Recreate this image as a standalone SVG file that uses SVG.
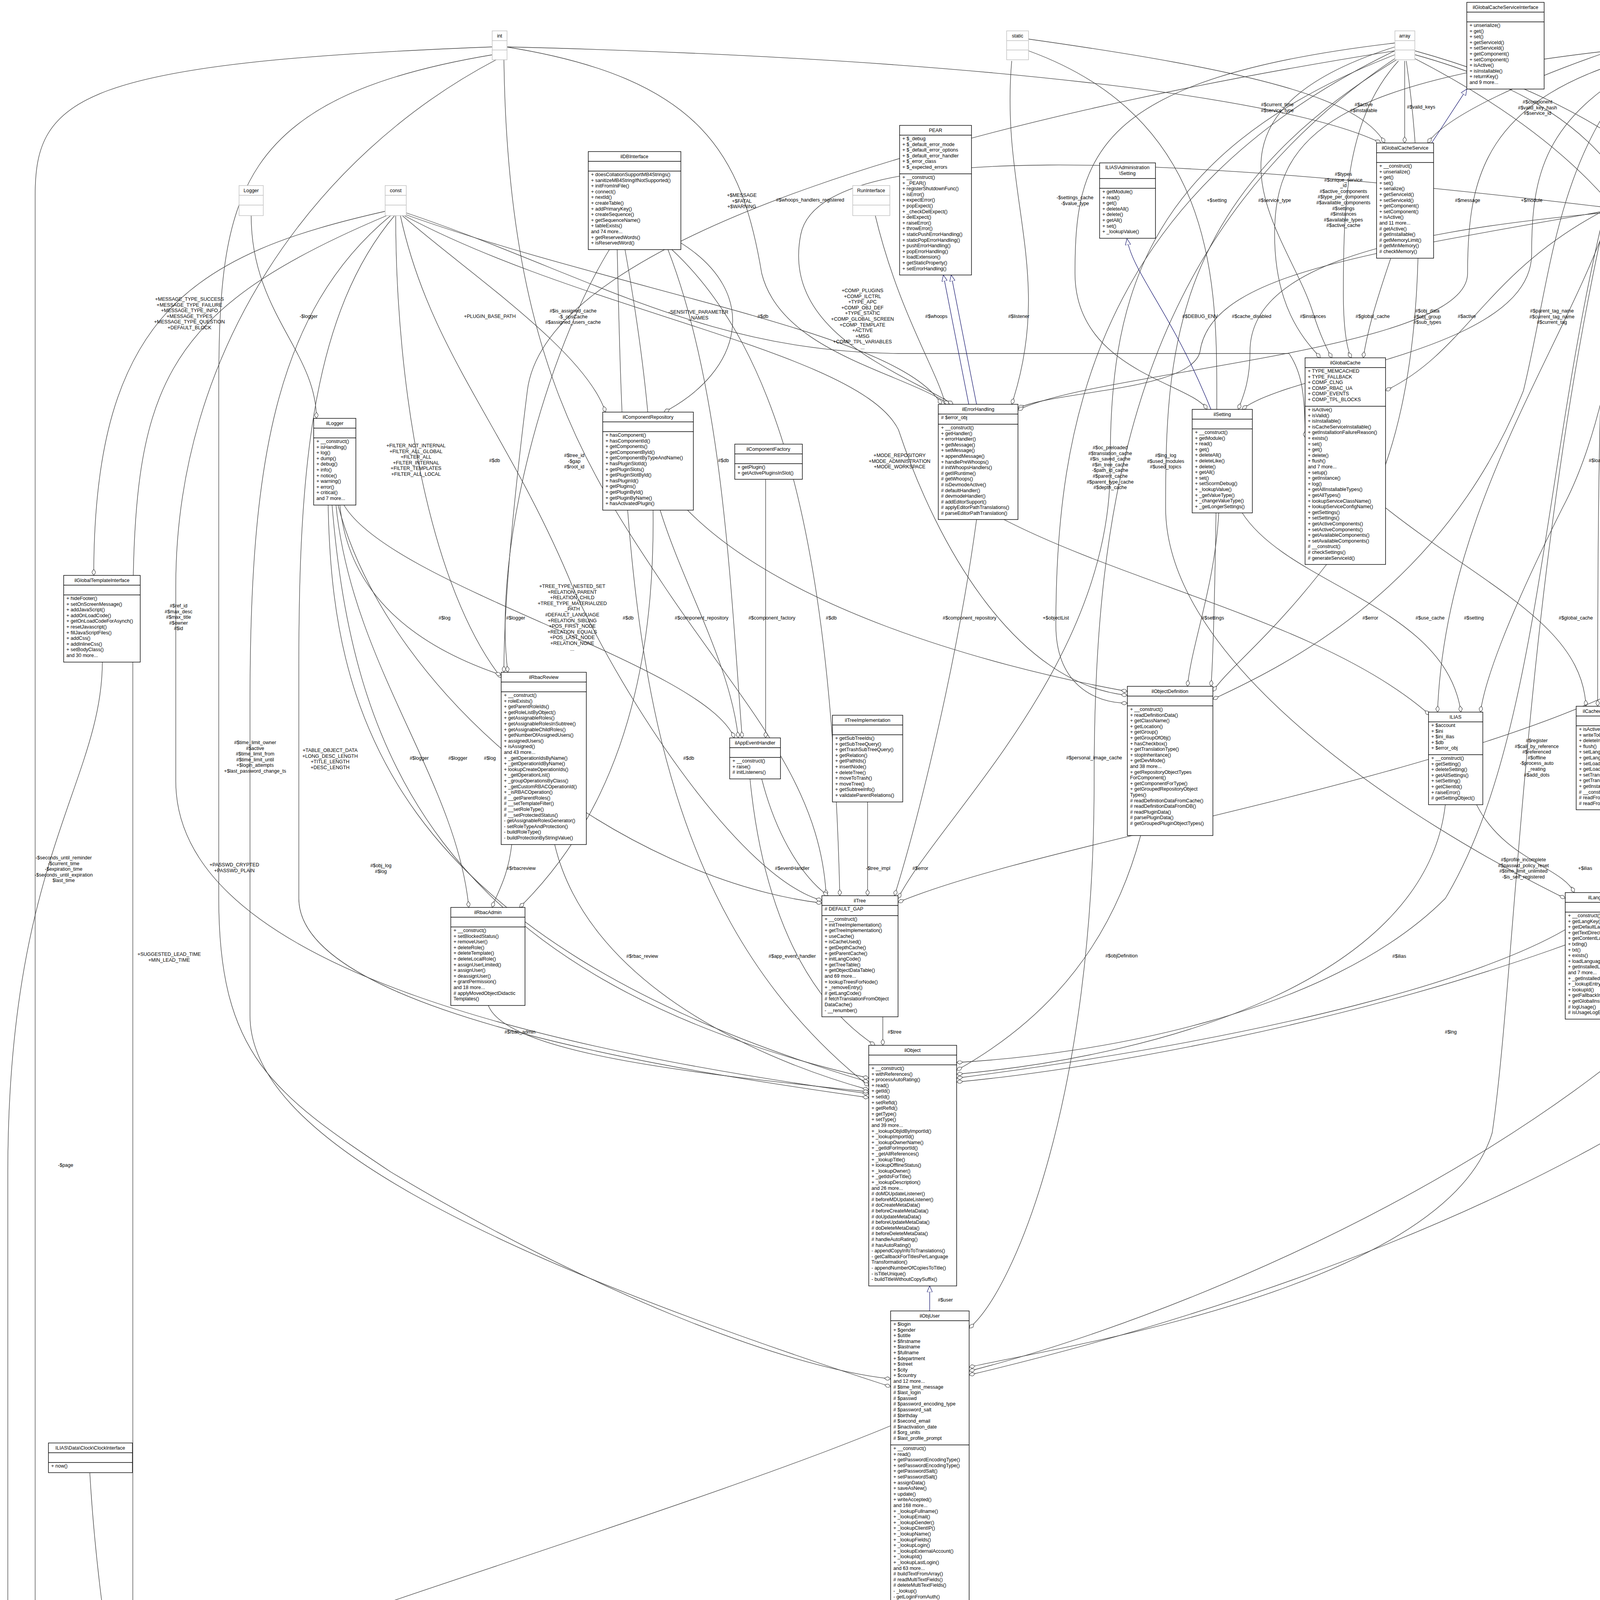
<svg xmlns="http://www.w3.org/2000/svg" width="5116" height="4673" viewBox="0 0 5116 4673">
<style>
.bg{fill:#fff}
.n{fill:#fff;stroke:#000;stroke-width:1.4}
.g{fill:#fff;stroke:#bfbfbf;stroke-width:1.4}
.sep{stroke:#000;stroke-width:1.4}
.gsep{stroke:#bfbfbf;stroke-width:1.4}
text{font-family:"Liberation Sans",Arial,sans-serif;font-size:12.5px;fill:#000}
.c{text-anchor:middle}
.e{fill:none;stroke:#404040;stroke-width:1.3}
.e path{marker-end:url(#dia)}
.inh{fill:none;stroke:#191970;stroke-width:1.3;marker-end:url(#tri)}
.lbl text{text-anchor:middle}
</style>
<defs>
<marker id="dia" viewBox="0 0 16 10" refX="16" refY="5" markerWidth="16" markerHeight="10" markerUnits="userSpaceOnUse" orient="auto"><path d="M0,5 L8,0 L16,5 L8,10 z" fill="#fff" stroke="#404040" stroke-width="1.2"/></marker>
<marker id="tri" viewBox="0 0 16 14" refX="16" refY="7" markerWidth="16" markerHeight="14" markerUnits="userSpaceOnUse" orient="auto"><path d="M0,0 L16,7 L0,14 z" fill="#fff" stroke="#191970" stroke-width="1.2"/></marker>
</defs>
<rect class="bg" x="0" y="0" width="5116" height="4673"/>

<g id="connectors">
<g class="e">
<path d="M1262,120 C200,160 90,250 90,500 L90,4230 C90,4270 150,4290 190,4290"/>
<path d="M990,552 C400,800 340,1000 340,1600 L340,4173"/>
<path d="M1262,140 C600,250 560,500 560,1000 L560,2300 C560,2700 700,2800 1000,3000 C1500,3300 2000,3500 2280,3530"/>
<path d="M1000,552 C700,800 640,1200 640,1800 L640,2600 C640,2900 1200,3200 2280,3550"/>
<path d="M1270,153 C800,400 450,900 450,1500 L450,2000 C450,2500 1500,2700 2224,2800"/>
<path d="M1010,552 C800,800 765,1200 765,1700 L765,2300 C765,2600 1800,2750 2224,2810"/>
<path d="M990,540 C500,650 240,800 240,1473"/>
<path d="M643,552 C643,800 810,900 810,1071"/>
<path d="M1013,552 C1013,1000 1100,1500 1283,1735"/>
<path d="M1030,552 C1200,700 1500,900 1550,1055"/>
<path d="M3571,130 C2500,300 1400,600 1350,1000 C1300,1400 1290,1600 1290,1721"/>
<path d="M1290,153 C1300,900 1500,1200 1700,1500 C1900,1800 2100,2000 2115,2293"/>
<path d="M1025,552 C1100,900 1300,1100 1465,1500 C1600,1800 1900,2250 2104,2305"/>
<path d="M1040,545 C1500,700 1800,900 2300,905 L3300,905 C3330,950 3341,1000 3341,1120"/>
<path d="M1035,552 C1500,800 2200,900 2300,1100 C2400,1400 2600,1750 2886,1780"/>
<path d="M1040,550 C1600,750 2300,850 2410,1035"/>
<path d="M1560,639 C1400,900 1260,1400 1300,1721"/>
<path d="M1710,639 C1850,1000 1870,1500 1900,1889"/>
<path d="M1740,620 C1950,750 1900,950 1700,1055"/>
<path d="M1600,639 C1700,1200 1760,1900 1330,2323"/>
<path d="M1720,639 C2000,900 2128,1400 2150,2293"/>
<path d="M1580,639 C1600,1500 1620,2300 2224,2780"/>
<path d="M870,1292 C900,1600 1200,1700 1283,1728"/>
<path d="M880,1292 C1000,1500 1800,1700 1880,1889"/>
<path d="M860,1292 C900,1700 1170,2000 1200,2323"/>
<path d="M865,1292 C1000,1800 1600,2250 2104,2312"/>
<path d="M850,1292 C900,1900 1100,2500 2224,2760"/>
<path d="M840,1292 C850,1800 975,2400 2224,2770"/>
<path d="M1690,1306 C1750,1500 1870,1700 1890,1889"/>
<path d="M1760,1306 C2000,1550 2500,1700 2886,1770"/>
<path d="M1960,1227 C1960,1500 1960,1700 1960,1889"/>
<path d="M2240,549 C2300,800 2400,950 2420,1035"/>
<path d="M4104,530 C3000,400 2100,350 2050,600 C2000,850 2300,950 2440,1035"/>
<path d="M1295,120 C1800,200 1900,400 1950,700 C2000,900 2300,950 2430,1035"/>
<path d="M2590,156 C2560,500 2700,700 2590,1035"/>
<path d="M4110,540 C3500,650 3100,700 3072,900 C3050,1000 2700,1000 2606,1045"/>
<path d="M2500,1330 C2450,1700 2350,2100 2290,2293"/>
<path d="M2570,1330 C2900,1500 3400,1600 3660,1830"/>
<path d="M1950,1994 C1990,2150 2060,2250 2120,2293"/>
<path d="M1920,1994 C1950,2300 2050,2550 2240,2676"/>
<path d="M2221,2052 L2221,2293"/>
<path d="M1310,2162 C1300,2250 1270,2290 1260,2323"/>
<path d="M1420,2162 C1500,2500 1900,2700 2224,2790"/>
<path d="M1250,2574 C1300,2700 1800,2750 2224,2795"/>
<path d="M2260,2603 L2260,2676"/>
<path d="M2920,2139 C2850,2400 2700,2600 2449,2740"/>
<path d="M3700,2060 C3650,2500 3000,2700 2449,2750"/>
<path d="M4007,2380 C3800,2500 3300,2650 2449,2760"/>
<path d="M4186,2400 C4800,2600 5040,2800 5040,3200 L5040,4300 C5040,4500 2000,4580 381,4600"/>
<path d="M2280,3650 C1800,3850 800,4150 417,4310"/>
<path d="M303,4511 L303,4576"/>
<path d="M230,3771 C240,3950 260,4100 270,4173"/>
<path d="M262,1694 C262,2000 20,2200 20,3000 L20,4400 C20,4550 150,4590 226,4590"/>
<path d="M3120,1313 C3110,1500 3050,1650 3040,1757"/>
<path d="M3180,1313 C3300,1500 3700,1550 3740,1823"/>
<path d="M4120,552 C4000,900 3700,1300 3680,1823"/>
<path d="M3547,1300 C3800,1500 4050,1600 4060,1808"/>
<path d="M4105,2073 L4105,2285"/>
<path d="M3780,2060 C3850,2200 4000,2220 4030,2285"/>
<path d="M4110,552 C3900,1500 3880,2500 3820,2900 C3700,3300 2700,3450 2481,3500"/>
<path d="M4105,552 C3950,1200 3940,1900 3700,2300 C3400,2600 2800,2700 2449,2720"/>
<path d="M4266,140 C4900,500 4920,1200 4920,1700 C4920,2300 3200,2700 2449,2770"/>
<path d="M4266,130 C5000,400 5060,1000 5060,1700 C5060,2800 3200,3350 2481,3520"/>
<path d="M3622,130 C4600,400 4760,1100 4760,1700 C4760,2600 3300,3300 2481,3510"/>
<path d="M4250,156 C4700,500 4708,900 4708,1400 C4700,2000 4300,2200 4186,2300"/>
<path d="M4240,156 C4500,600 4511,1000 4511,1400 C4500,1900 2800,2100 2299,2310"/>
<path d="M3622,150 C4300,500 4380,900 4380,1400 C4370,1900 4250,2200 4186,2290"/>
<path d="M4120,552 C4090,900 4090,1500 4090,1808"/>
<path d="M4140,552 C4250,1000 4250,1800 4176,2290"/>
<path d="M4214,150 C3980,400 3973,700 3900,1000 C3700,1500 3300,1700 3105,1790"/>
<path d="M4230,156 C4170,500 4160,1000 4000,1300 C3850,1600 3800,1750 3790,1823"/>
<path d="M3622,140 C4200,300 4266,600 4266,1000 C4266,1400 4170,1700 4165,1808"/>
<path d="M4260,156 C4390,400 4390,1000 4390,1300 C4390,1600 4180,1750 4170,1808"/>
<path d="M3600,156 C3650,500 3654,1000 3500,1300 C3300,1600 3150,1700 3105,1770"/>
<path d="M4104,540 C3800,700 3755,900 3547,1000"/>
<path d="M3560,662 C3520,780 3500,850 3490,916"/>
<path d="M3571,120 C3000,300 3300,600 3361,800 C3380,860 3400,900 3410,916"/>
<path d="M4104,545 C3500,600 3200,700 3200,900 C3200,980 3180,1020 3170,1048"/>
<path d="M3571,110 C2800,200 2752,400 2752,700 C2752,950 3050,980 3090,1048"/>
<path d="M2633,130 C3100,300 3115,700 3115,1000 C3115,1400 3105,1700 3100,1757"/>
<path d="M4214,120 C3400,200 3263,350 3263,600 C3263,800 3350,880 3380,916"/>
<path d="M3580,156 C3450,300 3439,500 3439,750 C3439,850 3450,900 3460,916"/>
<path d="M4214,140 C3800,250 3757,450 3757,700 C3757,900 2800,950 2606,1050"/>
<path d="M4220,156 C3950,300 3921,450 3921,650 C3921,900 3300,950 3180,1048"/>
<path d="M1298,120 C2500,150 3300,250 3535,366"/>
<path d="M2633,100 C3200,180 3480,250 3545,366"/>
<path d="M3596,156 L3596,366"/>
<path d="M4214,100 C3900,200 3700,300 3655,366"/>
<path d="M3571,140 C2900,400 2842,800 2842,1200 C2842,1700 2400,2100 2299,2300"/>
<path d="M3580,150 C3000,500 2984,900 2984,1300 C2984,1700 3600,2100 4007,2300"/>
<path d="M3571,150 C2900,600 2800,1300 2801,2000 C2801,2800 2600,3300 2481,3400"/>
<path d="M3571,130 C2800,500 2703,1100 2703,1600 C2703,1750 2800,1800 2886,1800"/>
</g>
<path class="inh" d="M2480,1035 L2415,704"/>
<path class="inh" d="M2500,1035 L2435,704"/>
<path class="inh" d="M3100,1048 C3000,800 2900,700 2885,611"/>
<path class="inh" d="M3665,366 L3755,228"/>
<path class="inh" d="M2380,3356 L2380,3292"/>
<g class="lbl">
<text x="163" y="2200"><tspan x="163">-$seconds_until_reminder</tspan><tspan x="163" dy="14.6">-$current_time</tspan><tspan x="163" dy="14.6">-$expiration_time</tspan><tspan x="163" dy="14.6">-$seconds_until_expiration</tspan><tspan x="163" dy="14.6">$last_time</tspan></text>
<text x="433" y="2447"><tspan x="433">+SUGGESTED_LEAD_TIME</tspan><tspan x="433" dy="14.6">+MIN_LEAD_TIME</tspan></text>
<text x="653" y="1905"><tspan x="653">#$time_limit_owner</tspan><tspan x="653" dy="14.6">#$active</tspan><tspan x="653" dy="14.6">#$time_limit_from</tspan><tspan x="653" dy="14.6">#$time_limit_until</tspan><tspan x="653" dy="14.6">+$login_attempts</tspan><tspan x="653" dy="14.6">+$last_password_change_ts</tspan></text>
<text x="600" y="2218"><tspan x="600">+PASSWD_CRYPTED</tspan><tspan x="600" dy="14.6">+PASSWD_PLAIN</tspan></text>
<text x="457" y="1555"><tspan x="457">#$ref_id</tspan><tspan x="457" dy="14.6">#$max_desc</tspan><tspan x="457" dy="14.6">#$max_title</tspan><tspan x="457" dy="14.6">#$owner</tspan><tspan x="457" dy="14.6">#$id</tspan></text>
<text x="845" y="1925"><tspan x="845">+TABLE_OBJECT_DATA</tspan><tspan x="845" dy="14.6">+LONG_DESC_LENGTH</tspan><tspan x="845" dy="14.6">+TITLE_LENGTH</tspan><tspan x="845" dy="14.6">+DESC_LENGTH</tspan></text>
<text x="485" y="770"><tspan x="485">+MESSAGE_TYPE_SUCCESS</tspan><tspan x="485" dy="14.6">+MESSAGE_TYPE_FAILURE</tspan><tspan x="485" dy="14.6">+MESSAGE_TYPE_INFO</tspan><tspan x="485" dy="14.6">+MESSAGE_TYPES</tspan><tspan x="485" dy="14.6">+MESSAGE_TYPE_QUESTION</tspan><tspan x="485" dy="14.6">+DEFAULT_BLOCK</tspan></text>
<text x="790" y="814">-$logger</text>
<text x="1065" y="1145"><tspan x="1065">+FILTER_NOT_INTERNAL</tspan><tspan x="1065" dy="14.6">+FILTER_ALL_GLOBAL</tspan><tspan x="1065" dy="14.6">+FILTER_ALL</tspan><tspan x="1065" dy="14.6">+FILTER_INTERNAL</tspan><tspan x="1065" dy="14.6">+FILTER_TEMPLATES</tspan><tspan x="1065" dy="14.6">+FILTER_ALL_LOCAL</tspan></text>
<text x="1254" y="814">+PLUGIN_BASE_PATH</text>
<text x="1467" y="800"><tspan x="1467">#$is_assigned_cache</tspan><tspan x="1467" dy="14.6">-$_opsCache</tspan><tspan x="1467" dy="14.6">#$assigned_users_cache</tspan></text>
<text x="1470" y="1170"><tspan x="1470">#$tree_id</tspan><tspan x="1470" dy="14.6">-$gap</tspan><tspan x="1470" dy="14.6">#$root_id</tspan></text>
<text x="1465" y="1505"><tspan x="1465">+TREE_TYPE_NESTED_SET</tspan><tspan x="1465" dy="14.6">+RELATION_PARENT</tspan><tspan x="1465" dy="14.6">+RELATION_CHILD</tspan><tspan x="1465" dy="14.6">+TREE_TYPE_MATERIALIZED</tspan><tspan x="1465" dy="14.6">_PATH</tspan><tspan x="1465" dy="14.6">#DEFAULT_LANGUAGE</tspan><tspan x="1465" dy="14.6">+RELATION_SIBLING</tspan><tspan x="1465" dy="14.6">+POS_FIRST_NODE</tspan><tspan x="1465" dy="14.6">+RELATION_EQUALS</tspan><tspan x="1465" dy="14.6">+POS_LAST_NODE</tspan><tspan x="1465" dy="14.6">+RELATION_NONE</tspan><tspan x="1465" dy="14.6">...</tspan></text>
<text x="2208" y="748"><tspan x="2208">+COMP_PLUGINS</tspan><tspan x="2208" dy="14.6">+COMP_ILCTRL</tspan><tspan x="2208" dy="14.6">+TYPE_APC</tspan><tspan x="2208" dy="14.6">+COMP_OBJ_DEF</tspan><tspan x="2208" dy="14.6">+TYPE_STATIC</tspan><tspan x="2208" dy="14.6">+COMP_GLOBAL_SCREEN</tspan><tspan x="2208" dy="14.6">+COMP_TEMPLATE</tspan><tspan x="2208" dy="14.6">+ACTIVE</tspan><tspan x="2208" dy="14.6">+MSG</tspan><tspan x="2208" dy="14.6">+COMP_TPL_VARIABLES</tspan><tspan x="2208" dy="14.6">...</tspan></text>
<text x="2303" y="1170"><tspan x="2303">+MODE_REPOSITORY</tspan><tspan x="2303" dy="14.6">+MODE_ADMINISTRATION</tspan><tspan x="2303" dy="14.6">+MODE_WORKSPACE</tspan></text>
<text x="1788" y="803"><tspan x="1788">-SENSITIVE_PARAMETER</tspan><tspan x="1788" dy="14.6">_NAMES</tspan></text>
<text x="1266" y="1183">#$db</text>
<text x="1852" y="1183">#$db</text>
<text x="1953" y="814">#$db</text>
<text x="1763" y="1945">#$db</text>
<text x="2128" y="1586">#$db</text>
<text x="1608" y="1586">#$db</text>
<text x="1138" y="1586">#$log</text>
<text x="1320" y="1586">#$logger</text>
<text x="1073" y="1945">#$logger</text>
<text x="1172" y="1945">#$logger</text>
<text x="1254" y="1945">#$log</text>
<text x="975" y="2220"><tspan x="975">#$obj_log</tspan><tspan x="975" dy="14.6">#$log</tspan></text>
<text x="1796" y="1586">#$component_repository</text>
<text x="2482" y="1586">#$component_repository</text>
<text x="1976" y="1586">#$component_factory</text>
<text x="2397" y="814">#$whoops</text>
<text x="2074" y="516">#$whoops_handlers_registered</text>
<text x="1899" y="504"><tspan x="1899">+$MESSAGE</tspan><tspan x="1899" dy="14.6">+$FATAL</tspan><tspan x="1899" dy="14.6">+$WARNING</tspan></text>
<text x="2608" y="814">#$listener</text>
<text x="3072" y="814">#$DEBUG_ENV</text>
<text x="2356" y="2227">#$error</text>
<text x="3508" y="1586">#$error</text>
<text x="2028" y="2227">#$eventHandler</text>
<text x="2028" y="2452">#$app_event_handler</text>
<text x="2248" y="2227">-$tree_impl</text>
<text x="1334" y="2227">#$rbacreview</text>
<text x="1644" y="2452">#$rbac_review</text>
<text x="1331" y="2646">#$rbac_admin</text>
<text x="2290" y="2646">#$tree</text>
<text x="2871" y="2451">#$objDefinition</text>
<text x="3582" y="2452">#$ilias</text>
<text x="3714" y="2646">#$lng</text>
<text x="5062" y="3737">-$lng</text>
<text x="1000" y="4142">-$user</text>
<text x="2420" y="3332">#$user</text>
<text x="370" y="4549">-$sessionReminder</text>
<text x="290" y="4144">-$clock</text>
<text x="168" y="2987">-$page</text>
<text x="3105" y="1586">#$settings</text>
<text x="3773" y="1586">#$setting</text>
<text x="3661" y="1586">#$use_cache</text>
<text x="4034" y="1586">#$global_cache</text>
<text x="4148" y="2227">#$global_cache</text>
<text x="4058" y="2227">+$ilias</text>
<text x="3900" y="2205"><tspan x="3900">#$profile_incomplete</tspan><tspan x="3900" dy="14.6">#$passwd_policy_reset</tspan><tspan x="3900" dy="14.6">#$time_limit_unlimited</tspan><tspan x="3900" dy="14.6">-$is_self_registered</tspan></text>
<text x="3934" y="1900"><tspan x="3934">#$register</tspan><tspan x="3934" dy="14.6">#$call_by_reference</tspan><tspan x="3934" dy="14.6">#$referenced</tspan><tspan x="3934" dy="14.6">#$offline</tspan><tspan x="3934" dy="14.6">-$process_auto</tspan><tspan x="3934" dy="14.6">_reating</tspan><tspan x="3934" dy="14.6">#$add_dots</tspan></text>
<text x="4919" y="1530"><tspan x="4919">#$create_date</tspan><tspan x="4919" dy="14.6">#$desc</tspan><tspan x="4919" dy="14.6">#$title</tspan><tspan x="4919" dy="14.6">#$long_desc</tspan><tspan x="4919" dy="14.6">#$import_id</tspan><tspan x="4919" dy="14.6">+$untranslatedTitle</tspan><tspan x="4919" dy="14.6">#$type</tspan><tspan x="4919" dy="14.6">#$last_update</tspan></text>
<text x="5049" y="1860"><tspan x="5049">#$ext_account</tspan><tspan x="5049" dy="14.6">+$email</tspan><tspan x="5049" dy="14.6">+$phone_office</tspan><tspan x="5049" dy="14.6">+$institution</tspan><tspan x="5049" dy="14.6">#$first_login</tspan><tspan x="5049" dy="14.6">+$zipcode</tspan><tspan x="5049" dy="14.6">+$hobby</tspan><tspan x="5049" dy="14.6">+$zipcode</tspan><tspan x="5049" dy="14.6">#$passwd_type</tspan><tspan x="5049" dy="14.6">+$referral_comment</tspan><tspan x="5049" dy="14.6">...</tspan></text>
<text x="4760" y="1895"><tspan x="4760">+$prefs</tspan><tspan x="4760" dy="14.6">-$user_defined_data</tspan><tspan x="4760" dy="14.6">#$interests_help</tspan><tspan x="4760" dy="14.6">_offered</tspan><tspan x="4760" dy="14.6">#$interests_general</tspan><tspan x="4760" dy="14.6">#$oldPrefs</tspan><tspan x="4760" dy="14.6">#$interests_help</tspan><tspan x="4760" dy="14.6">_looking</tspan></text>
<text x="4708" y="1130"><tspan x="4708">+$lang_name</tspan><tspan x="4708" dy="14.6">+$lang_user</tspan><tspan x="4708" dy="14.6">+$lang_path</tspan><tspan x="4708" dy="14.6">#$cust_lang_path</tspan><tspan x="4708" dy="14.6">+$separator</tspan><tspan x="4708" dy="14.6">+$comment_separator</tspan><tspan x="4708" dy="14.6">+$lang_key</tspan><tspan x="4708" dy="14.6">+$lang_default</tspan></text>
<text x="4511" y="1140"><tspan x="4511">#$table_obj_data</tspan><tspan x="4511" dy="14.6">#$tree_pk</tspan><tspan x="4511" dy="14.6">#$table_obj_reference</tspan><tspan x="4511" dy="14.6">-$lang_code</tspan><tspan x="4511" dy="14.6">#$obj_pk</tspan><tspan x="4511" dy="14.6">#$ref_pk</tspan><tspan x="4511" dy="14.6">#$table_tree</tspan></text>
<text x="4380" y="1160"><tspan x="4380">#$cached_modules</tspan><tspan x="4380" dy="14.6">#$map_modules_txt</tspan><tspan x="4380" dy="14.6">+$loaded_modules</tspan><tspan x="4380" dy="14.6">+$text</tspan></text>
<text x="4093" y="1183">#$loaded</text>
<text x="4249" y="1586">#$usage_log_enabled</text>
<text x="3973" y="800"><tspan x="3973">#$parent_tag_name</tspan><tspan x="3973" dy="14.6">#$current_tag_name</tspan><tspan x="3973" dy="14.6">#$current_tag</tspan></text>
<text x="4164" y="808"><tspan x="4164">+$INI_FILE</tspan><tspan x="4164" dy="14.6">+$client_id</tspan></text>
<text x="4266" y="814">#$translations</text>
<text x="4390" y="814">#$language_key</text>
<text x="3654" y="800"><tspan x="3654">#$obj_data</tspan><tspan x="3654" dy="14.6">#$obj_group</tspan><tspan x="3654" dy="14.6">#$sub_types</tspan></text>
<text x="3755" y="814">#$active</text>
<text x="3514" y="814">#$global_cache</text>
<text x="3361" y="814">#$instances</text>
<text x="3204" y="814">#$cache_disabled</text>
<text x="2752" y="510"><tspan x="2752">-$settings_cache</tspan><tspan x="2752" dy="14.6">-$value_type</tspan></text>
<text x="3115" y="517">+$setting</text>
<text x="3263" y="517">#$service_type</text>
<text x="3439" y="450"><tspan x="3439">#$types</tspan><tspan x="3439" dy="14.6">#$unique_service</tspan><tspan x="3439" dy="14.6">_id</tspan><tspan x="3439" dy="14.6">#$active_components</tspan><tspan x="3439" dy="14.6">#$type_per_component</tspan><tspan x="3439" dy="14.6">#$available_components</tspan><tspan x="3439" dy="14.6">#$settings</tspan><tspan x="3439" dy="14.6">#$instances</tspan><tspan x="3439" dy="14.6">#$available_types</tspan><tspan x="3439" dy="14.6">#$active_cache</tspan></text>
<text x="3757" y="517">#$message</text>
<text x="3921" y="517">+$module</text>
<text x="3270" y="272"><tspan x="3270">#$current_time</tspan><tspan x="3270" dy="14.6">#$service_type</tspan></text>
<text x="3491" y="272"><tspan x="3491">#$active</tspan><tspan x="3491" dy="14.6">#$installable</tspan></text>
<text x="3638" y="278">#$valid_keys</text>
<text x="3936" y="265"><tspan x="3936">#$component</tspan><tspan x="3936" dy="14.6">#$valid_key_hash</tspan><tspan x="3936" dy="14.6">#$service_id</tspan></text>
<text x="2842" y="1150"><tspan x="2842">#$oc_preloaded</tspan><tspan x="2842" dy="14.6">#$translation_cache</tspan><tspan x="2842" dy="14.6">#$is_saved_cache</tspan><tspan x="2842" dy="14.6">#$in_tree_cache</tspan><tspan x="2842" dy="14.6">-$path_id_cache</tspan><tspan x="2842" dy="14.6">#$parent_cache</tspan><tspan x="2842" dy="14.6">#$parent_type_cache</tspan><tspan x="2842" dy="14.6">#$depth_cache</tspan></text>
<text x="2984" y="1170"><tspan x="2984">#$lng_log</tspan><tspan x="2984" dy="14.6">#$used_modules</tspan><tspan x="2984" dy="14.6">#$used_topics</tspan></text>
<text x="2801" y="1944">#$personal_image_cache</text>
<text x="2703" y="1586">+$objectList</text>
</g>
</g>

<g id="n_int"><rect class="g" x="1260" y="79" width="38" height="74"/><line class="gsep" x1="1260" y1="104" x2="1298" y2="104"/><line class="gsep" x1="1260" y1="128" x2="1298" y2="128"/><text class="c" x="1279" y="96">int</text></g>
<g id="n_static"><rect class="g" x="2577" y="79" width="56" height="74"/><line class="gsep" x1="2577" y1="104" x2="2633" y2="104"/><line class="gsep" x1="2577" y1="128" x2="2633" y2="128"/><text class="c" x="2605" y="96">static</text></g>
<g id="n_array"><rect class="g" x="3571" y="79" width="51" height="74"/><line class="gsep" x1="3571" y1="104" x2="3622" y2="104"/><line class="gsep" x1="3571" y1="128" x2="3622" y2="128"/><text class="c" x="3596" y="96">array</text></g>
<g id="n_string"><rect class="g" x="4214" y="79" width="52" height="74"/><line class="gsep" x1="4214" y1="104" x2="4266" y2="104"/><line class="gsep" x1="4214" y1="128" x2="4266" y2="128"/><text class="c" x="4240" y="96">string</text></g>
<g id="n_bool"><rect class="g" x="4104" y="475" width="49" height="77"/><line class="gsep" x1="4104" y1="500" x2="4153" y2="500"/><line class="gsep" x1="4104" y1="525" x2="4153" y2="525"/><text class="c" x="4128" y="492">bool</text></g>
<g id="n_Logger"><rect class="g" x="612" y="475" width="62" height="77"/><line class="gsep" x1="612" y1="500" x2="674" y2="500"/><line class="gsep" x1="612" y1="525" x2="674" y2="525"/><text class="c" x="643" y="492">Logger</text></g>
<g id="n_const"><rect class="g" x="986" y="475" width="54" height="77"/><line class="gsep" x1="986" y1="500" x2="1040" y2="500"/><line class="gsep" x1="986" y1="525" x2="1040" y2="525"/><text class="c" x="1013" y="492">const</text></g>
<g id="n_RunInterface"><rect class="g" x="2183" y="475" width="95" height="77"/><line class="gsep" x1="2183" y1="500" x2="2278" y2="500"/><line class="gsep" x1="2183" y1="525" x2="2278" y2="525"/><text class="c" x="2230" y="492">RunInterface</text></g>

<g id="n_ilGlobalCacheServiceInterface"><rect class="n" x="3755" y="6" width="198" height="222"/><line class="sep" x1="3755" y1="31" x2="3953" y2="31"/><line class="sep" x1="3755" y1="56" x2="3953" y2="56"/><text class="c" x="3854" y="23">ilGlobalCacheServiceInterface</text>
<text x="3762" y="69"><tspan x="3762">+ unserialize()</tspan><tspan x="3762" dy="14.6">+ get()</tspan><tspan x="3762" dy="14.6">+ set()</tspan><tspan x="3762" dy="14.6">+ getServiceId()</tspan><tspan x="3762" dy="14.6">+ setServiceId()</tspan><tspan x="3762" dy="14.6">+ getComponent()</tspan><tspan x="3762" dy="14.6">+ setComponent()</tspan><tspan x="3762" dy="14.6">+ isActive()</tspan><tspan x="3762" dy="14.6">+ isInstallable()</tspan><tspan x="3762" dy="14.6">+ returnKey()</tspan><tspan x="3762" dy="14.6">and 9 more...</tspan></text></g>

<g id="n_ilGlobalCacheService"><rect class="n" x="3524" y="366" width="146" height="295"/><line class="sep" x1="3524" y1="391" x2="3670" y2="391"/><line class="sep" x1="3524" y1="416" x2="3670" y2="416"/><text class="c" x="3597" y="383">ilGlobalCacheService</text>
<text x="3531" y="429"><tspan x="3531">+ __construct()</tspan><tspan x="3531" dy="14.6">+ unserialize()</tspan><tspan x="3531" dy="14.6">+ get()</tspan><tspan x="3531" dy="14.6">+ set()</tspan><tspan x="3531" dy="14.6">+ serialize()</tspan><tspan x="3531" dy="14.6">+ getServiceId()</tspan><tspan x="3531" dy="14.6">+ setServiceId()</tspan><tspan x="3531" dy="14.6">+ getComponent()</tspan><tspan x="3531" dy="14.6">+ setComponent()</tspan><tspan x="3531" dy="14.6">+ isActive()</tspan><tspan x="3531" dy="14.6">and 11 more...</tspan><tspan x="3531" dy="14.6"># getActive()</tspan><tspan x="3531" dy="14.6"># getInstallable()</tspan><tspan x="3531" dy="14.6"># getMemoryLimit()</tspan><tspan x="3531" dy="14.6"># getMinMemory()</tspan><tspan x="3531" dy="14.6"># checkMemory()</tspan></text></g>

<g id="n_AdminSetting"><rect class="n" x="2815" y="417" width="143" height="193"/><line class="sep" x1="2815" y1="457" x2="2958" y2="457"/><line class="sep" x1="2815" y1="482" x2="2958" y2="482"/><text class="c" x="2886" y="433"><tspan x="2886">ILIAS\Administration</tspan><tspan x="2886" dy="14.6">\Setting</tspan></text>
<text x="2822" y="495"><tspan x="2822">+ getModule()</tspan><tspan x="2822" dy="14.6">+ read()</tspan><tspan x="2822" dy="14.6">+ get()</tspan><tspan x="2822" dy="14.6">+ deleteAll()</tspan><tspan x="2822" dy="14.6">+ delete()</tspan><tspan x="2822" dy="14.6">+ getAll()</tspan><tspan x="2822" dy="14.6">+ set()</tspan><tspan x="2822" dy="14.6">+ _lookupValue()</tspan></text></g>

<g id="n_PEAR"><rect class="n" x="2303" y="321" width="184" height="383"/><line class="sep" x1="2303" y1="346" x2="2487" y2="346"/><line class="sep" x1="2303" y1="445" x2="2487" y2="445"/><text class="c" x="2395" y="338">PEAR</text>
<text x="2310" y="359"><tspan x="2310">+ $_debug</tspan><tspan x="2310" dy="14.6">+ $_default_error_mode</tspan><tspan x="2310" dy="14.6">+ $_default_error_options</tspan><tspan x="2310" dy="14.6">+ $_default_error_handler</tspan><tspan x="2310" dy="14.6">+ $_error_class</tspan><tspan x="2310" dy="14.6">+ $_expected_errors</tspan></text>
<text x="2310" y="458"><tspan x="2310">+ __construct()</tspan><tspan x="2310" dy="14.6">+ _PEAR()</tspan><tspan x="2310" dy="14.6">+ registerShutdownFunc()</tspan><tspan x="2310" dy="14.6">+ isError()</tspan><tspan x="2310" dy="14.6">+ expectError()</tspan><tspan x="2310" dy="14.6">+ popExpect()</tspan><tspan x="2310" dy="14.6">+ _checkDelExpect()</tspan><tspan x="2310" dy="14.6">+ delExpect()</tspan><tspan x="2310" dy="14.6">+ raiseError()</tspan><tspan x="2310" dy="14.6">+ throwError()</tspan><tspan x="2310" dy="14.6">+ staticPushErrorHandling()</tspan><tspan x="2310" dy="14.6">+ staticPopErrorHandling()</tspan><tspan x="2310" dy="14.6">+ pushErrorHandling()</tspan><tspan x="2310" dy="14.6">+ popErrorHandling()</tspan><tspan x="2310" dy="14.6">+ loadExtension()</tspan><tspan x="2310" dy="14.6">+ getStaticProperty()</tspan><tspan x="2310" dy="14.6">+ setErrorHandling()</tspan></text></g>

<g id="n_ilErrorHandling"><rect class="n" x="2402" y="1035" width="204" height="295"/><line class="sep" x1="2402" y1="1060" x2="2606" y2="1060"/><line class="sep" x1="2402" y1="1086" x2="2606" y2="1086"/><text class="c" x="2504" y="1052">ilErrorHandling</text>
<text x="2409" y="1073"># $error_obj</text>
<text x="2409" y="1099"><tspan x="2409">+ __construct()</tspan><tspan x="2409" dy="14.6">+ getHandler()</tspan><tspan x="2409" dy="14.6">+ errorHandler()</tspan><tspan x="2409" dy="14.6">+ getMessage()</tspan><tspan x="2409" dy="14.6">+ setMessage()</tspan><tspan x="2409" dy="14.6">+ appendMessage()</tspan><tspan x="2409" dy="14.6">+ handlePreWhoops()</tspan><tspan x="2409" dy="14.6"># initWhoopsHandlers()</tspan><tspan x="2409" dy="14.6"># getIlRuntime()</tspan><tspan x="2409" dy="14.6"># getWhoops()</tspan><tspan x="2409" dy="14.6"># isDevmodeActive()</tspan><tspan x="2409" dy="14.6"># defaultHandler()</tspan><tspan x="2409" dy="14.6"># devmodeHandler()</tspan><tspan x="2409" dy="14.6"># addEditorSupport()</tspan><tspan x="2409" dy="14.6"># applyEditorPathTranslations()</tspan><tspan x="2409" dy="14.6"># parseEditorPathTranslation()</tspan></text></g>

<g id="n_ilDBInterface"><rect class="n" x="1506" y="388" width="237" height="251"/><line class="sep" x1="1506" y1="413" x2="1743" y2="413"/><line class="sep" x1="1506" y1="438" x2="1743" y2="438"/><text class="c" x="1624" y="405">ilDBInterface</text>
<text x="1513" y="451"><tspan x="1513">+ doesCollationSupportMB4Strings()</tspan><tspan x="1513" dy="14.6">+ sanitizeMB4StringIfNotSupported()</tspan><tspan x="1513" dy="14.6">+ initFromIniFile()</tspan><tspan x="1513" dy="14.6">+ connect()</tspan><tspan x="1513" dy="14.6">+ nextId()</tspan><tspan x="1513" dy="14.6">+ createTable()</tspan><tspan x="1513" dy="14.6">+ addPrimaryKey()</tspan><tspan x="1513" dy="14.6">+ createSequence()</tspan><tspan x="1513" dy="14.6">+ getSequenceName()</tspan><tspan x="1513" dy="14.6">+ tableExists()</tspan><tspan x="1513" dy="14.6">and 74 more...</tspan><tspan x="1513" dy="14.6">+ getReservedWords()</tspan><tspan x="1513" dy="14.6">+ isReservedWord()</tspan></text></g>

<g id="n_ilComponentRepository"><rect class="n" x="1543" y="1055" width="232" height="251"/><line class="sep" x1="1543" y1="1080" x2="1775" y2="1080"/><line class="sep" x1="1543" y1="1105" x2="1775" y2="1105"/><text class="c" x="1659" y="1072">ilComponentRepository</text>
<text x="1550" y="1118"><tspan x="1550">+ hasComponent()</tspan><tspan x="1550" dy="14.6">+ hasComponentId()</tspan><tspan x="1550" dy="14.6">+ getComponents()</tspan><tspan x="1550" dy="14.6">+ getComponentById()</tspan><tspan x="1550" dy="14.6">+ getComponentByTypeAndName()</tspan><tspan x="1550" dy="14.6">+ hasPluginSlotId()</tspan><tspan x="1550" dy="14.6">+ getPluginSlots()</tspan><tspan x="1550" dy="14.6">+ getPluginSlotById()</tspan><tspan x="1550" dy="14.6">+ hasPluginId()</tspan><tspan x="1550" dy="14.6">+ getPlugins()</tspan><tspan x="1550" dy="14.6">+ getPluginById()</tspan><tspan x="1550" dy="14.6">+ getPluginByName()</tspan><tspan x="1550" dy="14.6">+ hasActivatedPlugin()</tspan></text></g>

<g id="n_ilComponentFactory"><rect class="n" x="1881" y="1137" width="173" height="90"/><line class="sep" x1="1881" y1="1162" x2="2054" y2="1162"/><line class="sep" x1="1881" y1="1187" x2="2054" y2="1187"/><text class="c" x="1967" y="1154">ilComponentFactory</text>
<text x="1888" y="1200"><tspan x="1888">+ getPlugin()</tspan><tspan x="1888" dy="14.6">+ getActivePluginsInSlot()</tspan></text></g>

<g id="n_ilLogger"><rect class="n" x="803" y="1071" width="108" height="222"/><line class="sep" x1="803" y1="1096" x2="911" y2="1096"/><line class="sep" x1="803" y1="1121" x2="911" y2="1121"/><text class="c" x="857" y="1088">ilLogger</text>
<text x="810" y="1134"><tspan x="810">+ __construct()</tspan><tspan x="810" dy="14.6">+ isHandling()</tspan><tspan x="810" dy="14.6">+ log()</tspan><tspan x="810" dy="14.6">+ dump()</tspan><tspan x="810" dy="14.6">+ debug()</tspan><tspan x="810" dy="14.6">+ info()</tspan><tspan x="810" dy="14.6">+ notice()</tspan><tspan x="810" dy="14.6">+ warning()</tspan><tspan x="810" dy="14.6">+ error()</tspan><tspan x="810" dy="14.6">+ critical()</tspan><tspan x="810" dy="14.6">and 7 more...</tspan></text></g>

<g id="n_ilGlobalTemplateInterface"><rect class="n" x="163" y="1473" width="196" height="222"/><line class="sep" x1="163" y1="1498" x2="359" y2="1498"/><line class="sep" x1="163" y1="1523" x2="359" y2="1523"/><text class="c" x="261" y="1490">ilGlobalTemplateInterface</text>
<text x="170" y="1536"><tspan x="170">+ hideFooter()</tspan><tspan x="170" dy="14.6">+ setOnScreenMessage()</tspan><tspan x="170" dy="14.6">+ addJavaScript()</tspan><tspan x="170" dy="14.6">+ addOnLoadCode()</tspan><tspan x="170" dy="14.6">+ getOnLoadCodeForAsynch()</tspan><tspan x="170" dy="14.6">+ resetJavascript()</tspan><tspan x="170" dy="14.6">+ fillJavaScriptFiles()</tspan><tspan x="170" dy="14.6">+ addCss()</tspan><tspan x="170" dy="14.6">+ addInlineCss()</tspan><tspan x="170" dy="14.6">+ setBodyClass()</tspan><tspan x="170" dy="14.6">and 30 more...</tspan></text></g>

<g id="n_ilRbacReview"><rect class="n" x="1283" y="1721" width="218" height="441"/><line class="sep" x1="1283" y1="1746" x2="1501" y2="1746"/><line class="sep" x1="1283" y1="1771" x2="1501" y2="1771"/><text class="c" x="1392" y="1738">ilRbacReview</text>
<text x="1290" y="1784"><tspan x="1290">+ __construct()</tspan><tspan x="1290" dy="14.6">+ roleExists()</tspan><tspan x="1290" dy="14.6">+ getParentRoleIds()</tspan><tspan x="1290" dy="14.6">+ getRoleListByObject()</tspan><tspan x="1290" dy="14.6">+ getAssignableRoles()</tspan><tspan x="1290" dy="14.6">+ getAssignableRolesInSubtree()</tspan><tspan x="1290" dy="14.6">+ getAssignableChildRoles()</tspan><tspan x="1290" dy="14.6">+ getNumberOfAssignedUsers()</tspan><tspan x="1290" dy="14.6">+ assignedUsers()</tspan><tspan x="1290" dy="14.6">+ isAssigned()</tspan><tspan x="1290" dy="14.6">and 43 more...</tspan><tspan x="1290" dy="14.6">+ _getOperationIdsByName()</tspan><tspan x="1290" dy="14.6">+ _getOperationIdByName()</tspan><tspan x="1290" dy="14.6">+ lookupCreateOperationIds()</tspan><tspan x="1290" dy="14.6">+ _getOperationList()</tspan><tspan x="1290" dy="14.6">+ _groupOperationsByClass()</tspan><tspan x="1290" dy="14.6">+ _getCustomRBACOperationId()</tspan><tspan x="1290" dy="14.6">+ _isRBACOperation()</tspan><tspan x="1290" dy="14.6"># __getParentRoles()</tspan><tspan x="1290" dy="14.6"># __setTemplateFilter()</tspan><tspan x="1290" dy="14.6"># __setRoleType()</tspan><tspan x="1290" dy="14.6"># __setProtectedStatus()</tspan><tspan x="1290" dy="14.6">- getAssignableRolesGenerator()</tspan><tspan x="1290" dy="14.6">- setRoleTypeAndProtection()</tspan><tspan x="1290" dy="14.6">- buildRoleType()</tspan><tspan x="1290" dy="14.6">- buildProtectionByStringValue()</tspan></text></g>

<g id="n_ilAppEventHandler"><rect class="n" x="1868" y="1889" width="130" height="105"/><line class="sep" x1="1868" y1="1914" x2="1998" y2="1914"/><line class="sep" x1="1868" y1="1939" x2="1998" y2="1939"/><text class="c" x="1933" y="1906">ilAppEventHandler</text>
<text x="1875" y="1952"><tspan x="1875">+ __construct()</tspan><tspan x="1875" dy="14.6">+ raise()</tspan><tspan x="1875" dy="14.6"># initListeners()</tspan></text></g>

<g id="n_ilTreeImplementation"><rect class="n" x="2131" y="1831" width="180" height="222"/><line class="sep" x1="2131" y1="1856" x2="2311" y2="1856"/><line class="sep" x1="2131" y1="1881" x2="2311" y2="1881"/><text class="c" x="2221" y="1848">ilTreeImplementation</text>
<text x="2138" y="1894"><tspan x="2138">+ getSubTreeIds()</tspan><tspan x="2138" dy="14.6">+ getSubTreeQuery()</tspan><tspan x="2138" dy="14.6">+ getTrashSubTreeQuery()</tspan><tspan x="2138" dy="14.6">+ getRelation()</tspan><tspan x="2138" dy="14.6">+ getPathIds()</tspan><tspan x="2138" dy="14.6">+ insertNode()</tspan><tspan x="2138" dy="14.6">+ deleteTree()</tspan><tspan x="2138" dy="14.6">+ moveToTrash()</tspan><tspan x="2138" dy="14.6">+ moveTree()</tspan><tspan x="2138" dy="14.6">+ getSubtreeInfo()</tspan><tspan x="2138" dy="14.6">+ validateParentRelations()</tspan></text></g>

<g id="n_ilTree"><rect class="n" x="2104" y="2293" width="195" height="310"/><line class="sep" x1="2104" y1="2318" x2="2299" y2="2318"/><line class="sep" x1="2104" y1="2344" x2="2299" y2="2344"/><text class="c" x="2201" y="2310">ilTree</text>
<text x="2111" y="2331"># DEFAULT_GAP</text>
<text x="2111" y="2357"><tspan x="2111">+ __construct()</tspan><tspan x="2111" dy="14.6">+ initTreeImplementation()</tspan><tspan x="2111" dy="14.6">+ getTreeImplementation()</tspan><tspan x="2111" dy="14.6">+ useCache()</tspan><tspan x="2111" dy="14.6">+ isCacheUsed()</tspan><tspan x="2111" dy="14.6">+ getDepthCache()</tspan><tspan x="2111" dy="14.6">+ getParentCache()</tspan><tspan x="2111" dy="14.6">+ initLangCode()</tspan><tspan x="2111" dy="14.6">+ getTreeTable()</tspan><tspan x="2111" dy="14.6">+ getObjectDataTable()</tspan><tspan x="2111" dy="14.6">and 69 more...</tspan><tspan x="2111" dy="14.6">+ lookupTreesForNode()</tspan><tspan x="2111" dy="14.6">+ _removeEntry()</tspan><tspan x="2111" dy="14.6"># getLangCode()</tspan><tspan x="2111" dy="14.6"># fetchTranslationFromObject</tspan><tspan x="2111" dy="14.6">DataCache()</tspan><tspan x="2111" dy="14.6">- __renumber()</tspan></text></g>

<g id="n_ilRbacAdmin"><rect class="n" x="1154" y="2323" width="190" height="251"/><line class="sep" x1="1154" y1="2348" x2="1344" y2="2348"/><line class="sep" x1="1154" y1="2373" x2="1344" y2="2373"/><text class="c" x="1249" y="2340">ilRbacAdmin</text>
<text x="1161" y="2386"><tspan x="1161">+ __construct()</tspan><tspan x="1161" dy="14.6">+ setBlockedStatus()</tspan><tspan x="1161" dy="14.6">+ removeUser()</tspan><tspan x="1161" dy="14.6">+ deleteRole()</tspan><tspan x="1161" dy="14.6">+ deleteTemplate()</tspan><tspan x="1161" dy="14.6">+ deleteLocalRole()</tspan><tspan x="1161" dy="14.6">+ assignUserLimited()</tspan><tspan x="1161" dy="14.6">+ assignUser()</tspan><tspan x="1161" dy="14.6">+ deassignUser()</tspan><tspan x="1161" dy="14.6">+ grantPermission()</tspan><tspan x="1161" dy="14.6">and 18 more...</tspan><tspan x="1161" dy="14.6"># applyMovedObjectDidactic</tspan><tspan x="1161" dy="14.6">Templates()</tspan></text></g>

<g id="n_ilObject"><rect class="n" x="2224" y="2676" width="225" height="616"/><line class="sep" x1="2224" y1="2701" x2="2449" y2="2701"/><line class="sep" x1="2224" y1="2726" x2="2449" y2="2726"/><text class="c" x="2336" y="2693">ilObject</text>
<text x="2231" y="2739"><tspan x="2231">+ __construct()</tspan><tspan x="2231" dy="14.6">+ withReferences()</tspan><tspan x="2231" dy="14.6">+ processAutoRating()</tspan><tspan x="2231" dy="14.6">+ read()</tspan><tspan x="2231" dy="14.6">+ getId()</tspan><tspan x="2231" dy="14.6">+ setId()</tspan><tspan x="2231" dy="14.6">+ setRefId()</tspan><tspan x="2231" dy="14.6">+ getRefId()</tspan><tspan x="2231" dy="14.6">+ getType()</tspan><tspan x="2231" dy="14.6">+ setType()</tspan><tspan x="2231" dy="14.6">and 39 more...</tspan><tspan x="2231" dy="14.6">+ _lookupObjIdByImportId()</tspan><tspan x="2231" dy="14.6">+ _lookupImportId()</tspan><tspan x="2231" dy="14.6">+ _lookupOwnerName()</tspan><tspan x="2231" dy="14.6">+ _getIdForImportId()</tspan><tspan x="2231" dy="14.6">+ _getAllReferences()</tspan><tspan x="2231" dy="14.6">+ _lookupTitle()</tspan><tspan x="2231" dy="14.6">+ lookupOfflineStatus()</tspan><tspan x="2231" dy="14.6">+ _lookupOwner()</tspan><tspan x="2231" dy="14.6">+ _getIdsForTitle()</tspan><tspan x="2231" dy="14.6">+ _lookupDescription()</tspan><tspan x="2231" dy="14.6">and 26 more...</tspan><tspan x="2231" dy="14.6"># doMDUpdateListener()</tspan><tspan x="2231" dy="14.6"># beforeMDUpdateListener()</tspan><tspan x="2231" dy="14.6"># doCreateMetaData()</tspan><tspan x="2231" dy="14.6"># beforeCreateMetaData()</tspan><tspan x="2231" dy="14.6"># doUpdateMetaData()</tspan><tspan x="2231" dy="14.6"># beforeUpdateMetaData()</tspan><tspan x="2231" dy="14.6"># doDeleteMetaData()</tspan><tspan x="2231" dy="14.6"># beforeDeleteMetaData()</tspan><tspan x="2231" dy="14.6"># handleAutoRating()</tspan><tspan x="2231" dy="14.6"># hasAutoRating()</tspan><tspan x="2231" dy="14.6">- appendCopyInfoToTranslations()</tspan><tspan x="2231" dy="14.6">- getCallbackForTitlesPerLanguage</tspan><tspan x="2231" dy="14.6">Transformation()</tspan><tspan x="2231" dy="14.6">- appendNumberOfCopiesToTitle()</tspan><tspan x="2231" dy="14.6">- isTitleUnique()</tspan><tspan x="2231" dy="14.6">- buildTitleWithoutCopySuffix()</tspan></text></g>

<g id="n_ilObjUser"><rect class="n" x="2280" y="3356" width="201" height="748"/><line class="sep" x1="2280" y1="3381" x2="2481" y2="3381"/><line class="sep" x1="2280" y1="3699" x2="2481" y2="3699"/><text class="c" x="2380" y="3373">ilObjUser</text>
<text x="2287" y="3394"><tspan x="2287">+ $login</tspan><tspan x="2287" dy="14.6">+ $gender</tspan><tspan x="2287" dy="14.6">+ $utitle</tspan><tspan x="2287" dy="14.6">+ $firstname</tspan><tspan x="2287" dy="14.6">+ $lastname</tspan><tspan x="2287" dy="14.6">+ $fullname</tspan><tspan x="2287" dy="14.6">+ $department</tspan><tspan x="2287" dy="14.6">+ $street</tspan><tspan x="2287" dy="14.6">+ $city</tspan><tspan x="2287" dy="14.6">+ $country</tspan><tspan x="2287" dy="14.6">and 12 more...</tspan><tspan x="2287" dy="14.6"># $time_limit_message</tspan><tspan x="2287" dy="14.6"># $last_login</tspan><tspan x="2287" dy="14.6"># $passwd</tspan><tspan x="2287" dy="14.6"># $password_encoding_type</tspan><tspan x="2287" dy="14.6"># $password_salt</tspan><tspan x="2287" dy="14.6"># $birthday</tspan><tspan x="2287" dy="14.6"># $second_email</tspan><tspan x="2287" dy="14.6"># $inactivation_date</tspan><tspan x="2287" dy="14.6"># $org_units</tspan><tspan x="2287" dy="14.6"># $last_profile_prompt</tspan></text>
<text x="2287" y="3712"><tspan x="2287">+ __construct()</tspan><tspan x="2287" dy="14.6">+ read()</tspan><tspan x="2287" dy="14.6">+ getPasswordEncodingType()</tspan><tspan x="2287" dy="14.6">+ setPasswordEncodingType()</tspan><tspan x="2287" dy="14.6">+ getPasswordSalt()</tspan><tspan x="2287" dy="14.6">+ setPasswordSalt()</tspan><tspan x="2287" dy="14.6">+ assignData()</tspan><tspan x="2287" dy="14.6">+ saveAsNew()</tspan><tspan x="2287" dy="14.6">+ update()</tspan><tspan x="2287" dy="14.6">+ writeAccepted()</tspan><tspan x="2287" dy="14.6">and 168 more...</tspan><tspan x="2287" dy="14.6">+ _lookupFullname()</tspan><tspan x="2287" dy="14.6">+ _lookupEmail()</tspan><tspan x="2287" dy="14.6">+ _lookupGender()</tspan><tspan x="2287" dy="14.6">+ _lookupClientIP()</tspan><tspan x="2287" dy="14.6">+ _lookupName()</tspan><tspan x="2287" dy="14.6">+ _lookupFields()</tspan><tspan x="2287" dy="14.6">+ _lookupLogin()</tspan><tspan x="2287" dy="14.6">+ _lookupExternalAccount()</tspan><tspan x="2287" dy="14.6">+ _lookupId()</tspan><tspan x="2287" dy="14.6">+ _lookupLastLogin()</tspan><tspan x="2287" dy="14.6">and 63 more...</tspan><tspan x="2287" dy="14.6"># buildTextFromArray()</tspan><tspan x="2287" dy="14.6"># readMultiTextFields()</tspan><tspan x="2287" dy="14.6"># deleteMultiTextFields()</tspan><tspan x="2287" dy="14.6">- _lookup()</tspan><tspan x="2287" dy="14.6">- getLoginFromAuth()</tspan></text></g>

<g id="n_ClockInterface"><rect class="n" x="124" y="3694" width="215" height="76"/><line class="sep" x1="124" y1="3719" x2="339" y2="3719"/><line class="sep" x1="124" y1="3744" x2="339" y2="3744"/><text class="c" x="231" y="3711">ILIAS\Data\Clock\ClockInterface</text>
<text x="131" y="3757">+ now()</text></g>

<g id="n_ilSessionReminder"><rect class="n" x="190" y="4173" width="227" height="338"/><line class="sep" x1="190" y1="4198" x2="417" y2="4198"/><line class="sep" x1="190" y1="4223" x2="417" y2="4223"/><text class="c" x="303" y="4190">ilSessionReminder</text>
<text x="197" y="4236"><tspan x="197">+ __construct()</tspan><tspan x="197" dy="14.6">+ isActive()</tspan><tspan x="197" dy="14.6">+ setUser()</tspan><tspan x="197" dy="14.6">+ getUser()</tspan><tspan x="197" dy="14.6">+ setCurrentTime()</tspan><tspan x="197" dy="14.6">+ getCurrentTime()</tspan><tspan x="197" dy="14.6">+ setExpirationTime()</tspan><tspan x="197" dy="14.6">+ getExpirationTime()</tspan><tspan x="197" dy="14.6">+ setLeadTime()</tspan><tspan x="197" dy="14.6">+ getLeadTime()</tspan><tspan x="197" dy="14.6">+ setSecondsUntilExpiration()</tspan><tspan x="197" dy="14.6">+ getSecondsUntilExpiration()</tspan><tspan x="197" dy="14.6">+ setSecondsUntilReminder()</tspan><tspan x="197" dy="14.6">+ getSecondsUntilReminder()</tspan><tspan x="197" dy="14.6">+ byLoggedInUser()</tspan><tspan x="197" dy="14.6">- init()</tspan><tspan x="197" dy="14.6">- calculateSecondsUntilExpiration()</tspan><tspan x="197" dy="14.6">- calculateSecondsUntilReminder()</tspan><tspan x="197" dy="14.6">- isEnoughTimeLeftForReminder()</tspan></text></g>

<g id="n_ilSessionReminderGUI"><rect class="n" x="226" y="4576" width="155" height="90" style="fill:#bfbfbf"/><line class="sep" x1="226" y1="4601" x2="381" y2="4601"/><line class="sep" x1="226" y1="4626" x2="381" y2="4626"/><text class="c" x="303" y="4593">ilSessionReminderGUI</text>
<text x="233" y="4639"><tspan x="233">+ __construct()</tspan><tspan x="233" dy="14.6">+ populatePage()</tspan></text></g>

<g id="n_ilGlobalCache"><rect class="n" x="3341" y="916" width="206" height="529"/><line class="sep" x1="3341" y1="941" x2="3547" y2="941"/><line class="sep" x1="3341" y1="1040" x2="3547" y2="1040"/><text class="c" x="3444" y="933">ilGlobalCache</text>
<text x="3348" y="954"><tspan x="3348">+ TYPE_MEMCACHED</tspan><tspan x="3348" dy="14.6">+ TYPE_FALLBACK</tspan><tspan x="3348" dy="14.6">+ COMP_CLNG</tspan><tspan x="3348" dy="14.6">+ COMP_RBAC_UA</tspan><tspan x="3348" dy="14.6">+ COMP_EVENTS</tspan><tspan x="3348" dy="14.6">+ COMP_TPL_BLOCKS</tspan></text>
<text x="3348" y="1053"><tspan x="3348">+ isActive()</tspan><tspan x="3348" dy="14.6">+ isValid()</tspan><tspan x="3348" dy="14.6">+ isInstallable()</tspan><tspan x="3348" dy="14.6">+ isCacheServiceInstallable()</tspan><tspan x="3348" dy="14.6">+ getInstallationFailureReason()</tspan><tspan x="3348" dy="14.6">+ exists()</tspan><tspan x="3348" dy="14.6">+ set()</tspan><tspan x="3348" dy="14.6">+ get()</tspan><tspan x="3348" dy="14.6">+ delete()</tspan><tspan x="3348" dy="14.6">+ flush()</tspan><tspan x="3348" dy="14.6">and 7 more...</tspan><tspan x="3348" dy="14.6">+ setup()</tspan><tspan x="3348" dy="14.6">+ getInstance()</tspan><tspan x="3348" dy="14.6">+ log()</tspan><tspan x="3348" dy="14.6">+ getAllInstallableTypes()</tspan><tspan x="3348" dy="14.6">+ getAllTypes()</tspan><tspan x="3348" dy="14.6">+ lookupServiceClassName()</tspan><tspan x="3348" dy="14.6">+ lookupServiceConfigName()</tspan><tspan x="3348" dy="14.6">+ getSettings()</tspan><tspan x="3348" dy="14.6">+ setSettings()</tspan><tspan x="3348" dy="14.6">+ getActiveComponents()</tspan><tspan x="3348" dy="14.6">+ setActiveComponents()</tspan><tspan x="3348" dy="14.6">+ getAvailableComponents()</tspan><tspan x="3348" dy="14.6">+ setAvailableComponents()</tspan><tspan x="3348" dy="14.6"># __construct()</tspan><tspan x="3348" dy="14.6"># checkSettings()</tspan><tspan x="3348" dy="14.6"># generateServiceId()</tspan></text></g>

<g id="n_ilSetting"><rect class="n" x="3052" y="1048" width="154" height="265"/><line class="sep" x1="3052" y1="1073" x2="3206" y2="1073"/><line class="sep" x1="3052" y1="1098" x2="3206" y2="1098"/><text class="c" x="3129" y="1065">ilSetting</text>
<text x="3059" y="1111"><tspan x="3059">+ __construct()</tspan><tspan x="3059" dy="14.6">+ getModule()</tspan><tspan x="3059" dy="14.6">+ read()</tspan><tspan x="3059" dy="14.6">+ get()</tspan><tspan x="3059" dy="14.6">+ deleteAll()</tspan><tspan x="3059" dy="14.6">+ deleteLike()</tspan><tspan x="3059" dy="14.6">+ delete()</tspan><tspan x="3059" dy="14.6">+ getAll()</tspan><tspan x="3059" dy="14.6">+ set()</tspan><tspan x="3059" dy="14.6">+ setScormDebug()</tspan><tspan x="3059" dy="14.6">+ _lookupValue()</tspan><tspan x="3059" dy="14.6">+ _getValueType()</tspan><tspan x="3059" dy="14.6">+ _changeValueType()</tspan><tspan x="3059" dy="14.6">+ _getLongerSettings()</tspan></text></g>

<g id="n_ilObjectDefinition"><rect class="n" x="2886" y="1757" width="219" height="382"/><line class="sep" x1="2886" y1="1782" x2="3105" y2="1782"/><line class="sep" x1="2886" y1="1807" x2="3105" y2="1807"/><text class="c" x="2995" y="1774">ilObjectDefinition</text>
<text x="2893" y="1820"><tspan x="2893">+ __construct()</tspan><tspan x="2893" dy="14.6">+ readDefinitionData()</tspan><tspan x="2893" dy="14.6">+ getClassName()</tspan><tspan x="2893" dy="14.6">+ getLocation()</tspan><tspan x="2893" dy="14.6">+ getGroup()</tspan><tspan x="2893" dy="14.6">+ getGroupOfObj()</tspan><tspan x="2893" dy="14.6">+ hasCheckbox()</tspan><tspan x="2893" dy="14.6">+ getTranslationType()</tspan><tspan x="2893" dy="14.6">+ stopInheritance()</tspan><tspan x="2893" dy="14.6">+ getDevMode()</tspan><tspan x="2893" dy="14.6">and 38 more...</tspan><tspan x="2893" dy="14.6">+ getRepositoryObjectTypes</tspan><tspan x="2893" dy="14.6">ForComponent()</tspan><tspan x="2893" dy="14.6">+ getComponentForType()</tspan><tspan x="2893" dy="14.6">+ getGroupedRepositoryObject</tspan><tspan x="2893" dy="14.6">Types()</tspan><tspan x="2893" dy="14.6"># readDefinitionDataFromCache()</tspan><tspan x="2893" dy="14.6"># readDefinitionDataFromDB()</tspan><tspan x="2893" dy="14.6"># readPluginData()</tspan><tspan x="2893" dy="14.6"># parsePluginData()</tspan><tspan x="2893" dy="14.6"># getGroupedPluginObjectTypes()</tspan></text></g>

<g id="n_ILIAS"><rect class="n" x="3657" y="1823" width="139" height="237"/><line class="sep" x1="3657" y1="1848" x2="3796" y2="1848"/><line class="sep" x1="3657" y1="1932" x2="3796" y2="1932"/><text class="c" x="3726" y="1840">ILIAS</text>
<text x="3664" y="1861"><tspan x="3664">+ $account</tspan><tspan x="3664" dy="14.6">+ $ini</tspan><tspan x="3664" dy="14.6">+ $ini_ilias</tspan><tspan x="3664" dy="14.6">+ $db</tspan><tspan x="3664" dy="14.6">+ $error_obj</tspan></text>
<text x="3664" y="1945"><tspan x="3664">+ __construct()</tspan><tspan x="3664" dy="14.6">+ getSetting()</tspan><tspan x="3664" dy="14.6">+ deleteSetting()</tspan><tspan x="3664" dy="14.6">+ getAllSettings()</tspan><tspan x="3664" dy="14.6">+ setSetting()</tspan><tspan x="3664" dy="14.6">+ getClientId()</tspan><tspan x="3664" dy="14.6">+ raiseError()</tspan><tspan x="3664" dy="14.6"># getSettingObject()</tspan></text></g>

<g id="n_ilCachedLanguage"><rect class="n" x="4035" y="1808" width="139" height="265"/><line class="sep" x1="4035" y1="1833" x2="4174" y2="1833"/><line class="sep" x1="4035" y1="1858" x2="4174" y2="1858"/><text class="c" x="4104" y="1825">ilCachedLanguage</text>
<text x="4042" y="1871"><tspan x="4042">+ isActive()</tspan><tspan x="4042" dy="14.6">+ writeToCache()</tspan><tspan x="4042" dy="14.6">+ deleteInCache()</tspan><tspan x="4042" dy="14.6">+ flush()</tspan><tspan x="4042" dy="14.6">+ setLanguageKey()</tspan><tspan x="4042" dy="14.6">+ getLanguageKey()</tspan><tspan x="4042" dy="14.6">+ setLoaded()</tspan><tspan x="4042" dy="14.6">+ getLoaded()</tspan><tspan x="4042" dy="14.6">+ setTranslations()</tspan><tspan x="4042" dy="14.6">+ getTranslations()</tspan><tspan x="4042" dy="14.6">+ getInstance()</tspan><tspan x="4042" dy="14.6"># __construct()</tspan><tspan x="4042" dy="14.6"># readFromCache()</tspan><tspan x="4042" dy="14.6"># readFromDB()</tspan></text></g>

<g id="n_ilLanguage"><rect class="n" x="4007" y="2285" width="179" height="324"/><line class="sep" x1="4007" y1="2310" x2="4186" y2="2310"/><line class="sep" x1="4007" y1="2335" x2="4186" y2="2335"/><text class="c" x="4096" y="2302">ilLanguage</text>
<text x="4014" y="2348"><tspan x="4014">+ __construct()</tspan><tspan x="4014" dy="14.6">+ getLangKey()</tspan><tspan x="4014" dy="14.6">+ getDefaultLanguage()</tspan><tspan x="4014" dy="14.6">+ getTextDirection()</tspan><tspan x="4014" dy="14.6">+ getContentLanguage()</tspan><tspan x="4014" dy="14.6">+ txtlng()</tspan><tspan x="4014" dy="14.6">+ txt()</tspan><tspan x="4014" dy="14.6">+ exists()</tspan><tspan x="4014" dy="14.6">+ loadLanguageModule()</tspan><tspan x="4014" dy="14.6">+ getInstalledLanguages()</tspan><tspan x="4014" dy="14.6">and 7 more...</tspan><tspan x="4014" dy="14.6">+ _getInstalledLanguages()</tspan><tspan x="4014" dy="14.6">+ _lookupEntry()</tspan><tspan x="4014" dy="14.6">+ lookupId()</tspan><tspan x="4014" dy="14.6">+ getFallbackInstance()</tspan><tspan x="4014" dy="14.6">+ getGlobalInstance()</tspan><tspan x="4014" dy="14.6"># logUsage()</tspan><tspan x="4014" dy="14.6"># isUsageLogEnabled()</tspan></text></g>
</svg>
